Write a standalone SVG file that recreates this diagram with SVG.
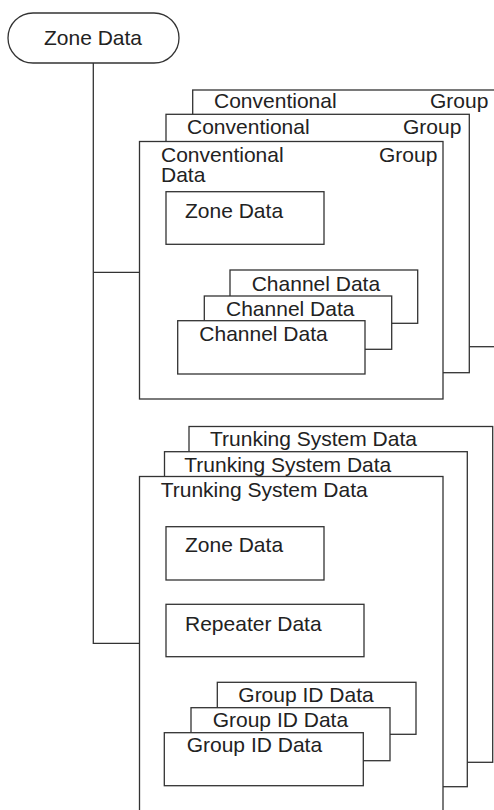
<svg xmlns="http://www.w3.org/2000/svg" width="494" height="810" viewBox="0 0 494 810">
<style>
.b{fill:#fff;stroke:#333;stroke-width:1.3}
.c{fill:none;stroke:#333;stroke-width:1.3}
text{font-family:"Liberation Sans",Arial,sans-serif;font-size:21px;fill:#222}
</style>
<rect width="494" height="810" fill="#fff"/>
<g id="connectors">
<path class="c" d="M93.3,63 V643.3 H139.5 M93.3,272.3 H139.5"/>
</g>
<g id="zone-data-root">
<rect class="b" x="8" y="13" width="171" height="50" rx="25" ry="25"/>
<text x="93" y="45" text-anchor="middle">Zone Data</text>
</g>
<g id="conventional-group-3">
<rect class="b" x="192.7" y="90" width="320" height="256.7"/>
<text x="214" y="108">Conventional</text>
<text x="430" y="108">Group</text>
</g>
<g id="conventional-group-2">
<rect class="b" x="166" y="114.3" width="303.3" height="258.4"/>
<text x="187" y="134">Conventional</text>
<text x="403" y="134">Group</text>
</g>
<g id="conventional-group-1">
<rect class="b" x="139.5" y="141.5" width="303.5" height="257.5"/>
<text x="161" y="161.5">Conventional</text>
<text x="379" y="161.5">Group</text>
<text x="161" y="181.7">Data</text>
</g>
<g id="conv-zone-data">
<rect class="b" x="166" y="191.7" width="158" height="52.6"/>
<text x="185" y="217.7">Zone Data</text>
</g>
<g id="channel-data-3">
<rect class="b" x="230" y="270" width="187.7" height="53.3"/>
<text x="251.7" y="290.7">Channel Data</text>
</g>
<g id="channel-data-2">
<rect class="b" x="204.3" y="296" width="187.4" height="53.3"/>
<text x="226" y="316">Channel Data</text>
</g>
<g id="channel-data-1">
<rect class="b" x="177.7" y="320.7" width="187.3" height="53.3"/>
<text x="199.3" y="340.7">Channel Data</text>
</g>
<g id="trunking-system-3">
<rect class="b" x="189" y="426.5" width="303.7" height="335.8"/>
<text x="210" y="445.7">Trunking System Data</text>
</g>
<g id="trunking-system-2">
<rect class="b" x="164.5" y="451.7" width="302.8" height="335"/>
<text x="184.3" y="471.7">Trunking System Data</text>
</g>
<g id="trunking-system-1">
<rect class="b" x="139.5" y="476.5" width="303.5" height="345"/>
<text x="160.7" y="496.7">Trunking System Data</text>
</g>
<g id="trunk-zone-data">
<rect class="b" x="166" y="526.7" width="158" height="53.3"/>
<text x="185" y="552.3">Zone Data</text>
</g>
<g id="repeater-data">
<rect class="b" x="166" y="604.3" width="198" height="52.4"/>
<text x="185" y="630.7">Repeater Data</text>
</g>
<g id="group-id-data-3">
<rect class="b" x="217.3" y="682.3" width="198.7" height="52"/>
<text x="238.3" y="701.7">Group ID Data</text>
</g>
<g id="group-id-data-2">
<rect class="b" x="191" y="707.7" width="199" height="53"/>
<text x="212.7" y="727.3">Group ID Data</text>
</g>
<g id="group-id-data-1">
<rect class="b" x="164.3" y="732.7" width="199" height="53"/>
<text x="186.7" y="752.3">Group ID Data</text>
</g>
</svg>
